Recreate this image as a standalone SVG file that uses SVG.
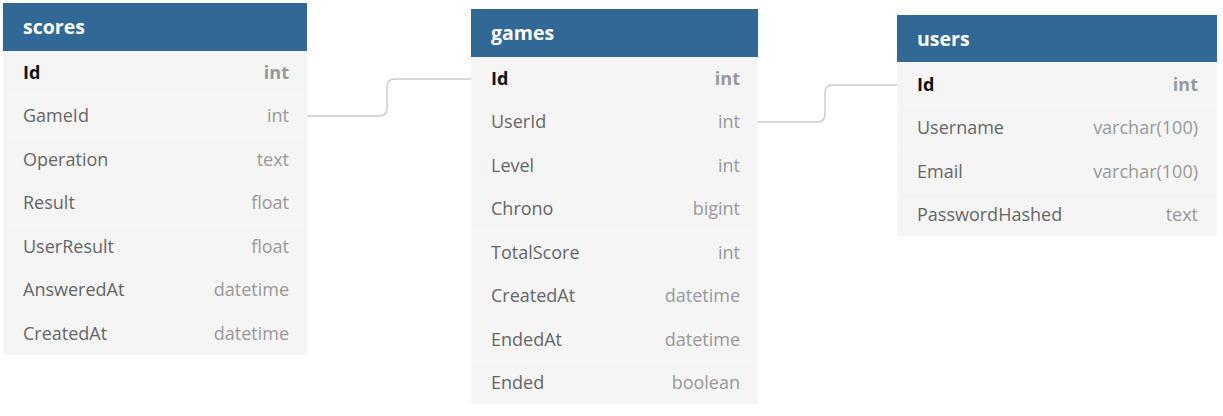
<svg xmlns="http://www.w3.org/2000/svg" width="1223" height="416" viewBox="0 0 1223 416">
<style>
.hdr{fill:#316896}
.body{fill:#f5f5f5}
.sep{stroke:#f8f8f8;stroke-width:1}
.title{font-family:"Open Sans","Noto Sans",sans-serif;font-weight:700;font-size:19.5px;fill:#ffffff}
.name{font-family:"Open Sans","Noto Sans",sans-serif;font-size:18px;fill:#666666}
.type{font-family:"Open Sans","Noto Sans",sans-serif;font-size:18px;fill:#999999;text-anchor:end}
.pk{font-weight:700;fill:#111111}
.pkt{font-weight:700;fill:#999999}
.conn{fill:none;stroke:#cccccc;stroke-width:1.5}
</style>
<rect width="1223" height="416" fill="#ffffff"/>
<g id="connectors">
<path class="conn" d="M307 116 H379 Q387 116 387 108 V87 Q387 79 395 79 H471"/>
<path class="conn" d="M758 122 H817 Q825 122 825 114 V93 Q825 85 833 85 H897"/>
</g>
<g id="scores">
<rect class="body" x="3" y="3" width="304" height="352"/>
<rect class="hdr" x="3" y="3" width="304" height="48"/>
<text class="title" x="23" y="34">scores</text>
<line class="sep" x1="3" y1="94.5" x2="307" y2="94.5"/>
<line class="sep" x1="3" y1="138" x2="307" y2="138"/>
<line class="sep" x1="3" y1="181.5" x2="307" y2="181.5"/>
<line class="sep" x1="3" y1="225" x2="307" y2="225"/>
<line class="sep" x1="3" y1="268.5" x2="307" y2="268.5"/>
<line class="sep" x1="3" y1="312" x2="307" y2="312"/>
<text class="name pk" x="23" y="79">Id</text><text class="type pkt" x="289" y="79">int</text>
<text class="name" x="23" y="122">GameId</text><text class="type" x="289" y="122">int</text>
<text class="name" x="23" y="166">Operation</text><text class="type" x="289" y="166">text</text>
<text class="name" x="23" y="209">Result</text><text class="type" x="289" y="209">float</text>
<text class="name" x="23" y="253">UserResult</text><text class="type" x="289" y="253">float</text>
<text class="name" x="23" y="296">AnsweredAt</text><text class="type" x="289" y="296">datetime</text>
<text class="name" x="23" y="340">CreatedAt</text><text class="type" x="289" y="340">datetime</text>
</g>
<g id="games">
<rect class="body" x="471" y="9" width="287" height="395"/>
<rect class="hdr" x="471" y="9" width="287" height="48"/>
<text class="title" x="491" y="40">games</text>
<line class="sep" x1="471" y1="100.5" x2="758" y2="100.5"/>
<line class="sep" x1="471" y1="144" x2="758" y2="144"/>
<line class="sep" x1="471" y1="187.5" x2="758" y2="187.5"/>
<line class="sep" x1="471" y1="231" x2="758" y2="231"/>
<line class="sep" x1="471" y1="274.5" x2="758" y2="274.5"/>
<line class="sep" x1="471" y1="318" x2="758" y2="318"/>
<line class="sep" x1="471" y1="361.5" x2="758" y2="361.5"/>
<text class="name pk" x="491" y="85">Id</text><text class="type pkt" x="740" y="85">int</text>
<text class="name" x="491" y="128">UserId</text><text class="type" x="740" y="128">int</text>
<text class="name" x="491" y="172">Level</text><text class="type" x="740" y="172">int</text>
<text class="name" x="491" y="215">Chrono</text><text class="type" x="740" y="215">bigint</text>
<text class="name" x="491" y="259">TotalScore</text><text class="type" x="740" y="259">int</text>
<text class="name" x="491" y="302">CreatedAt</text><text class="type" x="740" y="302">datetime</text>
<text class="name" x="491" y="346">EndedAt</text><text class="type" x="740" y="346">datetime</text>
<text class="name" x="491" y="389">Ended</text><text class="type" x="740" y="389">boolean</text>
</g>
<g id="users">
<rect class="body" x="897" y="15" width="320" height="221"/>
<rect class="hdr" x="897" y="15" width="320" height="47"/>
<text class="title" x="917" y="46">users</text>
<line class="sep" x1="897" y1="105.5" x2="1217" y2="105.5"/>
<line class="sep" x1="897" y1="149" x2="1217" y2="149"/>
<line class="sep" x1="897" y1="192.5" x2="1217" y2="192.5"/>
<text class="name pk" x="917" y="91">Id</text><text class="type pkt" x="1198" y="91">int</text>
<text class="name" x="917" y="134">Username</text><text class="type" x="1198" y="134">varchar(100)</text>
<text class="name" x="917" y="178">Email</text><text class="type" x="1198" y="178">varchar(100)</text>
<text class="name" x="917" y="221">PasswordHashed</text><text class="type" x="1198" y="221">text</text>
</g>
</svg>
